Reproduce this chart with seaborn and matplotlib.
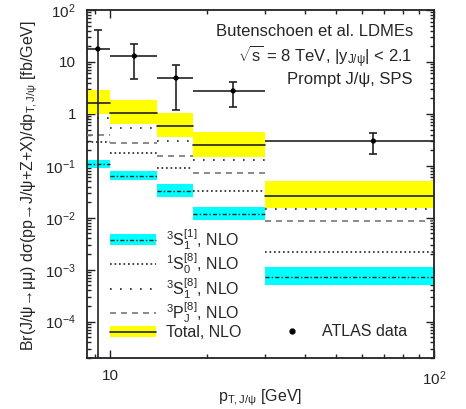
import numpy as np
import pandas as pd
import matplotlib
matplotlib.use('Agg')
import matplotlib.pyplot as plt
import seaborn as sns
from matplotlib.patches import Patch
from matplotlib.lines import Line2D
from matplotlib.ticker import FixedLocator, FixedFormatter, LogLocator, NullFormatter

# ---------------- data ----------------
bin_lo = [8.5, 10, 14, 18, 30]
bin_hi = [10, 14, 18, 30, 100]
total = [1.63, 1.04, 0.59, 0.25, 0.0265]
total_up = [2.9, 1.86, 1.04, 0.45, 0.0515]
total_dn = [1.0, 0.64, 0.36, 0.149, 0.0156]
s1_singlet = [0.11, 0.064, 0.033, 0.0119, 7.3e-4]
s1_singlet_up = [0.13, 0.079, 0.045, 0.0163, 1.14e-3]
s1_singlet_dn = [0.091, 0.053, 0.025, 0.0092, 5.15e-4]
s0_octet = [0.29, 0.178, 0.092, 0.033, 0.0022]
s1_octet = [0.84, 0.54, 0.30, 0.13, 0.0149]
pj_octet = [0.39, 0.28, 0.156, 0.073, 0.0088]
atlas_x = [9.18, 11.9, 16.0, 24.0, 65.0]
atlas_y = [17.8, 13.0, 4.9, 2.77, 0.30]
atlas_up = [41, 22, 8.7, 4.1, 0.43]
atlas_dn = [1e-6, 4.7, 1.2, 1.36, 0.17]
ytick_vals = [1e-4, 1e-3, 1e-2, 1e-1, 1, 10, 100]
ytick_labels = [r'$10^{-4}$', r'$10^{-3}$', r'$10^{-2}$', r'$10^{-1}$', '1', '10', r'$10^{2}$']
xtick_vals = [10, 100]
xtick_labels = ['10', r'$10^{2}$']

# ---------------- style ----------------
sns.set_style('ticks')
plt.rcParams['font.family'] = ['Liberation Sans', 'DejaVu Sans']
plt.rcParams['mathtext.fontset'] = 'custom'
plt.rcParams['mathtext.rm'] = 'Liberation Sans'
plt.rcParams['mathtext.it'] = 'Liberation Sans:italic'
plt.rcParams['mathtext.bf'] = 'Liberation Sans:bold'
plt.rcParams['mathtext.sf'] = 'Liberation Sans'

YELLOW = '#ffff00'
CYAN = '#00ffff'
ls_dashdot = (0, (3, 1.5, 1, 1.5))
ls_dense = (0, (1, 1.7))
ls_loose = (0, (1, 5))
ls_dash = (0, (3.6, 3))

fig = plt.figure(figsize=(4.66, 4.09), dpi=100)
ax = fig.add_axes([87/466, 1-358/409, (434-87)/466, (358-10)/409])
ax.set_xscale('log')
ax.set_yscale('log')
ax.set_xlim(8.5, 100)
ax.set_ylim(2e-5, 100)


def seg_df(vals):
    rows = []
    for i, (lo, hi, v) in enumerate(zip(bin_lo, bin_hi, vals)):
        rows.append((lo, v, i))
        rows.append((hi, v, i))
    return pd.DataFrame(rows, columns=['x', 'y', 'seg'])


widths = [h - l for l, h in zip(bin_lo, bin_hi)]
# bands
ax.bar(bin_lo, [u - d for u, d in zip(total_up, total_dn)], bottom=total_dn,
       width=widths, align='edge', color=YELLOW, lw=0, zorder=1)
ax.bar(bin_lo, [u - d for u, d in zip(s1_singlet_up, s1_singlet_dn)], bottom=s1_singlet_dn,
       width=widths, align='edge', color=CYAN, lw=0, zorder=1)

# component lines
for vals, ls, col, lw in [(s1_singlet, ls_dashdot, '#222222', 1.0),
                          (s0_octet, ls_dense, '#222222', 1.2),
                          (s1_octet, ls_loose, '#222222', 1.2),
                          (pj_octet, ls_dash, '#777777', 1.2),
                          (total, '-', '#222222', 1.2)]:
    sns.lineplot(data=seg_df(vals), x='x', y='y', units='seg', estimator=None,
                 sort=False, color=col, lw=lw, linestyle=ls, ax=ax, legend=False, zorder=3)

# ATLAS data
xl = [x - l for x, l in zip(atlas_x, bin_lo)]
xh = [h - x for x, h in zip(atlas_x, bin_hi)]
yl = [y - d for y, d in zip(atlas_y, atlas_dn)]
yh = [u - y for y, u in zip(atlas_y, atlas_up)]
ax.errorbar(atlas_x, atlas_y, xerr=[xl, xh], fmt='none', ecolor='#222222', elinewidth=1.2, zorder=4)
ax.errorbar(atlas_x, atlas_y, yerr=[yl, yh], fmt='none', ecolor='#222222', elinewidth=1.2,
            capsize=3, capthick=1.2, zorder=4)
sns.scatterplot(x=atlas_x, y=atlas_y, color='k', s=14, edgecolor='none', ax=ax, zorder=5, legend=False)

# axes cosmetics
ax.set_xlabel('')
ax.set_ylabel('')
ax.yaxis.set_major_locator(FixedLocator(ytick_vals))
ax.yaxis.set_major_formatter(FixedFormatter(ytick_labels))
ax.yaxis.set_minor_locator(LogLocator(base=10, subs=np.arange(2, 10), numticks=20))
ax.yaxis.set_minor_formatter(NullFormatter())
ax.xaxis.set_major_locator(FixedLocator(xtick_vals))
ax.xaxis.set_major_formatter(FixedFormatter(xtick_labels))
ax.xaxis.set_minor_locator(LogLocator(base=10, subs=np.arange(2, 10), numticks=20))
ax.xaxis.set_minor_formatter(NullFormatter())
ax.tick_params(which='both', direction='in', top=True, right=True, color='#222222', width=1.0)
ax.tick_params(which='major', length=6, labelsize=11, pad=8)
ax.tick_params(which='minor', length=3)
for s in ax.spines.values():
    s.set_linewidth(1.3)
    s.set_color('#222222')

fig.text((87 + 434) / 2 / 466, 1 - 398 / 409, r'p$_{\mathrm{T,J/\psi}}$ [GeV]', ha='center', va='center', fontsize=11.5)
fig.text(30 / 466, 1 - 185 / 409,
         r'Br(J/ψ→μμ) dσ(pp→J/ψ+Z+X)/dp$_{\mathrm{T,J/\psi}}$ [fb/GeV]',
         rotation=90, ha='center', va='center', fontsize=11.5)

ax.text(0.939, 0.937, 'Butenschoen et al. LDMEs', transform=ax.transAxes, ha='right', va='center', fontsize=12)
ax.text(0.939, 0.865, r'$\sqrt{\mathrm{s}}$ = 8 TeV, |y$_{\mathrm{J/\psi}}$| < 2.1', transform=ax.transAxes,
        ha='right', va='center', fontsize=12)
ax.text(0.939, 0.800, 'Prompt J/ψ, SPS', transform=ax.transAxes, ha='right', va='center', fontsize=12)

# legend (model components)
handles = [
    (Patch(fc=CYAN, ec='none'), Line2D([], [], color='#222222', ls=ls_dashdot, lw=1.0)),
    Line2D([], [], color='#222222', ls=ls_dense, lw=1.2),
    Line2D([], [], color='#222222', ls=ls_loose, lw=1.2),
    Line2D([], [], color='#777777', ls=ls_dash, lw=1.2),
    (Patch(fc=YELLOW, ec='none'), Line2D([], [], color='#222222', lw=1.2)),
]
labels = [r'$^{3}\mathrm{S}_{1}^{[1]}$, NLO', r'$^{1}\mathrm{S}_{0}^{[8]}$, NLO',
          r'$^{3}\mathrm{S}_{1}^{[8]}$, NLO', r'$^{3}\mathrm{P}_{\mathrm{J}}^{[8]}$, NLO',
          'Total, NLO']
leg1 = ax.legend(handles, labels, loc='upper left', bbox_to_anchor=(0.066, 0.377),
                 frameon=False, fontsize=11.5, handlelength=2.9, handletextpad=0.6,
                 labelspacing=-0.02, borderpad=0, borderaxespad=0)
ax.add_artist(leg1)

# legend (data)
ax.legend([Line2D([], [], color='k', lw=0, marker='o', ms=3.5)], ['ATLAS data'],
          loc='center left', bbox_to_anchor=(0.54, 1 - (332 - 10) / 348),
          frameon=False, fontsize=11.5, handlelength=2.2, handletextpad=0.8,
          borderpad=0, borderaxespad=0)

fig.savefig('out.png', dpi=100)
